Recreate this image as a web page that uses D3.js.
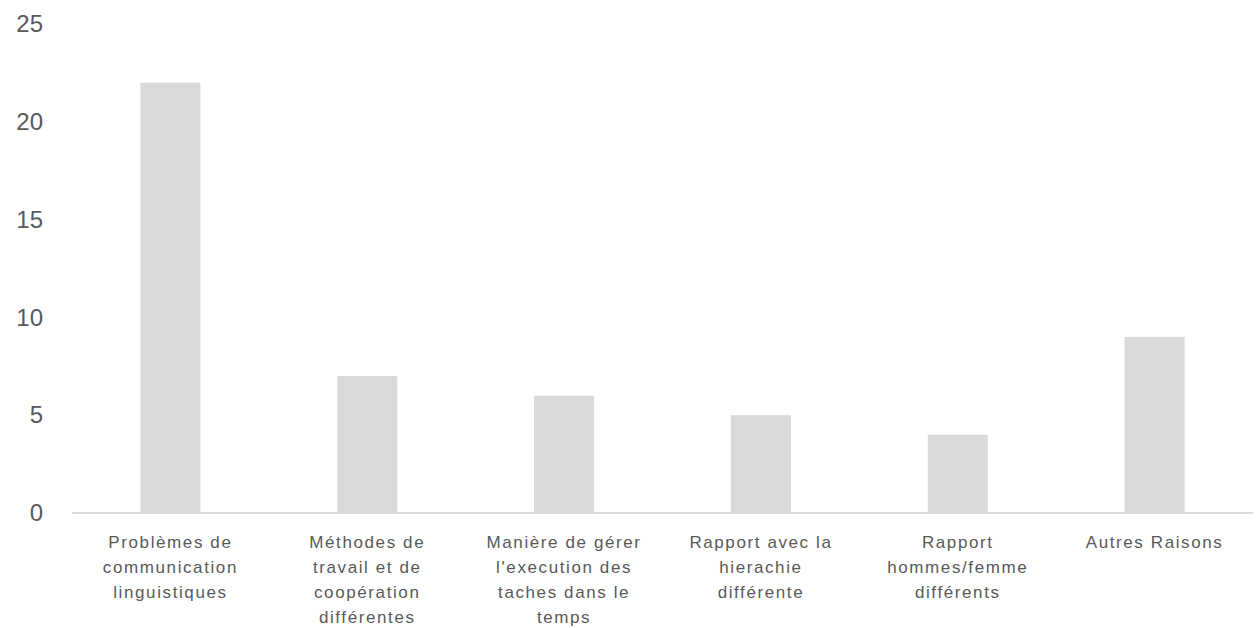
<!DOCTYPE html>
<html>
<head>
<meta charset="utf-8">
<script src="https://cdn.jsdelivr.net/npm/d3@7"></script>
<style>
  body { margin: 0; background: #fff; }
  svg text { font-family: "Liberation Sans", "DejaVu Sans", sans-serif; fill: #595959; }
</style>
</head>
<body>
<div id="chart"></div>
<script>
// categories, one entry per line of the wrapped label
var categories = [
  ["Problèmes de", "communication", "linguistiques"],
  ["Méthodes de", "travail et de", "coopération", "différentes"],
  ["Manière de gérer", "l'execution des", "taches dans le", "temps"],
  ["Rapport avec la", "hierachie", "différente"],
  ["Rapport", "hommes/femme", "différents"],
  ["Autres Raisons"]
];
var values = [22, 7, 6, 5, 4, 9];
var yTicks = [0, 5, 10, 15, 20, 25];

var width = 1259, height = 628;
var plotLeft = 72, plotRight = 1253, plotTop = 24, plotBottom = 513;

var svg = d3.select('#chart').append('svg')
  .attr('width', width)
  .attr('height', height);

var keys = categories.map(function(d, i) { return i; });

var x = d3.scaleBand()
  .domain(keys)
  .range([plotLeft, plotRight])
  .paddingInner(0.695)
  .paddingOuter(0.3475);

var y = d3.scaleLinear()
  .domain([0, 25])
  .range([plotBottom, plotTop]);

// y labels, no gridlines in the original
var yAxis = d3.axisLeft(y).tickValues(yTicks).tickSize(0).tickPadding(0);
var gy = svg.append('g')
  .attr('transform', 'translate(43,0)')
  .call(yAxis);
gy.select('.domain').remove();
gy.selectAll('text')
  .style('font-size', '24px')
  .style('font-family', '"Liberation Sans", sans-serif')
  .attr('fill', '#595959');

// bars
svg.selectAll('rect.bar')
  .data(values)
  .enter()
  .append('rect')
  .attr('class', 'bar')
  .attr('x', function(d, i) { return x(i); })
  .attr('width', x.bandwidth())
  .attr('y', function(d) { return y(d); })
  .attr('height', function(d) { return y(0) - y(d); })
  .attr('fill', '#d9d9d9');

// baseline
svg.append('line')
  .attr('x1', plotLeft).attr('x2', plotRight)
  .attr('y1', y(0)).attr('y2', y(0))
  .attr('stroke', '#d9d9d9')
  .attr('stroke-width', 2);

// category labels
var labels = svg.selectAll('text.cat')
  .data(categories)
  .enter()
  .append('text')
  .attr('class', 'cat')
  .attr('text-anchor', 'middle')
  .style('font-size', '17px')
  .style('letter-spacing', '1.6px');

labels.selectAll('tspan')
  .data(function(d, i) { return d.map(function(l) { return { line: l, i: i }; }); })
  .enter()
  .append('tspan')
  .attr('x', function(d) { return x(d.i) + x.bandwidth() / 2; })
  .attr('y', function(d, j) { return 548 + j * 25; })
  .text(function(d) { return d.line; });
</script>
</body>
</html>
